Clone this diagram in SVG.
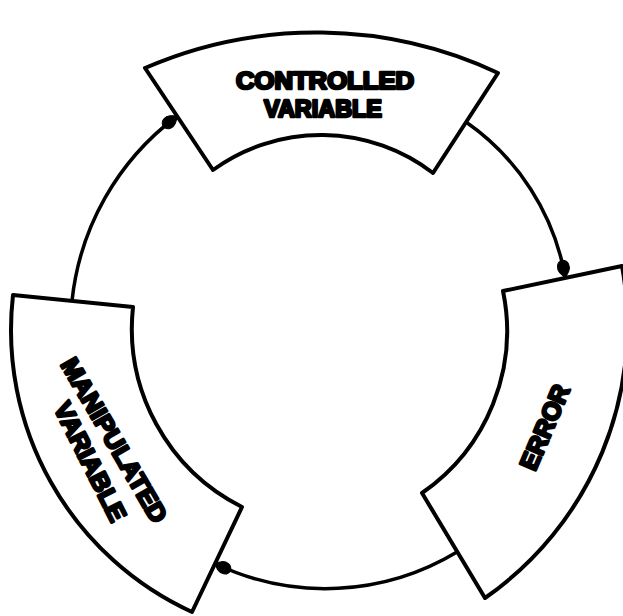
<svg xmlns="http://www.w3.org/2000/svg" width="623" height="616" viewBox="0 0 623 616">
<style>
.box{fill:#fff;stroke:#000;stroke-width:4;stroke-linejoin:round}
.conn{fill:none;stroke:#000;stroke-width:3.5;stroke-linecap:round}
.ah{fill:#000;stroke:#000;stroke-width:1;stroke-linejoin:round}
.lbl{font-family:"Liberation Sans",Arial,sans-serif;font-weight:bold;fill:#000;stroke:#000;stroke-width:2.6;stroke-linejoin:round;text-anchor:middle}
</style>
<defs>
<path id="ah" d="M2,0 L-4,-4.5 C-8,-7 -15,-6.5 -16,0 C-15,6.5 -8,7 -4,4.5 Z"/>
</defs>
<rect width="623" height="616" fill="#fff"/>
<g id="connectors">
<path class="conn" d="M72,301 A265,265 0 0 1 176,117"/>
<path class="conn" d="M466,122 A240,240 0 0 1 565,276"/>
<path class="conn" d="M457,552 A255,255 0 0 1 216,564"/>
<use href="#ah" class="ah" transform="translate(176,117) rotate(-36.9)"/>
<use href="#ah" class="ah" transform="translate(565,276) rotate(79.7)"/>
<use href="#ah" class="ah" transform="translate(216,564) rotate(-154.6)"/>
</g>
<g id="controlled-variable">
<path class="box" d="M145,68 A430,430 0 0 1 498,73 L433,173 A184,184 0 0 0 213,170 Z"/>
<text class="lbl" x="325" y="89" font-size="24" textLength="178" lengthAdjust="spacingAndGlyphs">CONTROLLED</text>
<text class="lbl" x="323" y="117" font-size="24" textLength="118" lengthAdjust="spacingAndGlyphs">VARIABLE</text>
</g>
<g id="error">
<path class="box" d="M503,291 L622,266 A332,332 0 0 1 485,598 L422,493 A197,197 0 0 0 503,291 Z"/>
<text class="lbl" transform="translate(544.5,427) rotate(-66.9)" x="0" y="9" font-size="25" textLength="90" lengthAdjust="spacingAndGlyphs">ERROR</text>
</g>
<g id="manipulated-variable">
<path class="box" d="M13,295 L133,307 A200,200 0 0 0 242,507 L192,612 A310,310 0 0 1 13,295 Z"/>
<text class="lbl" transform="translate(114.5,440) rotate(59.8)" x="0" y="9" font-size="25" textLength="186" lengthAdjust="spacingAndGlyphs">MANIPULATED</text>
<text class="lbl" transform="translate(90.5,461.5) rotate(63.2)" x="0" y="9" font-size="25" textLength="130" lengthAdjust="spacingAndGlyphs">VARIABLE</text>
</g>
</svg>
